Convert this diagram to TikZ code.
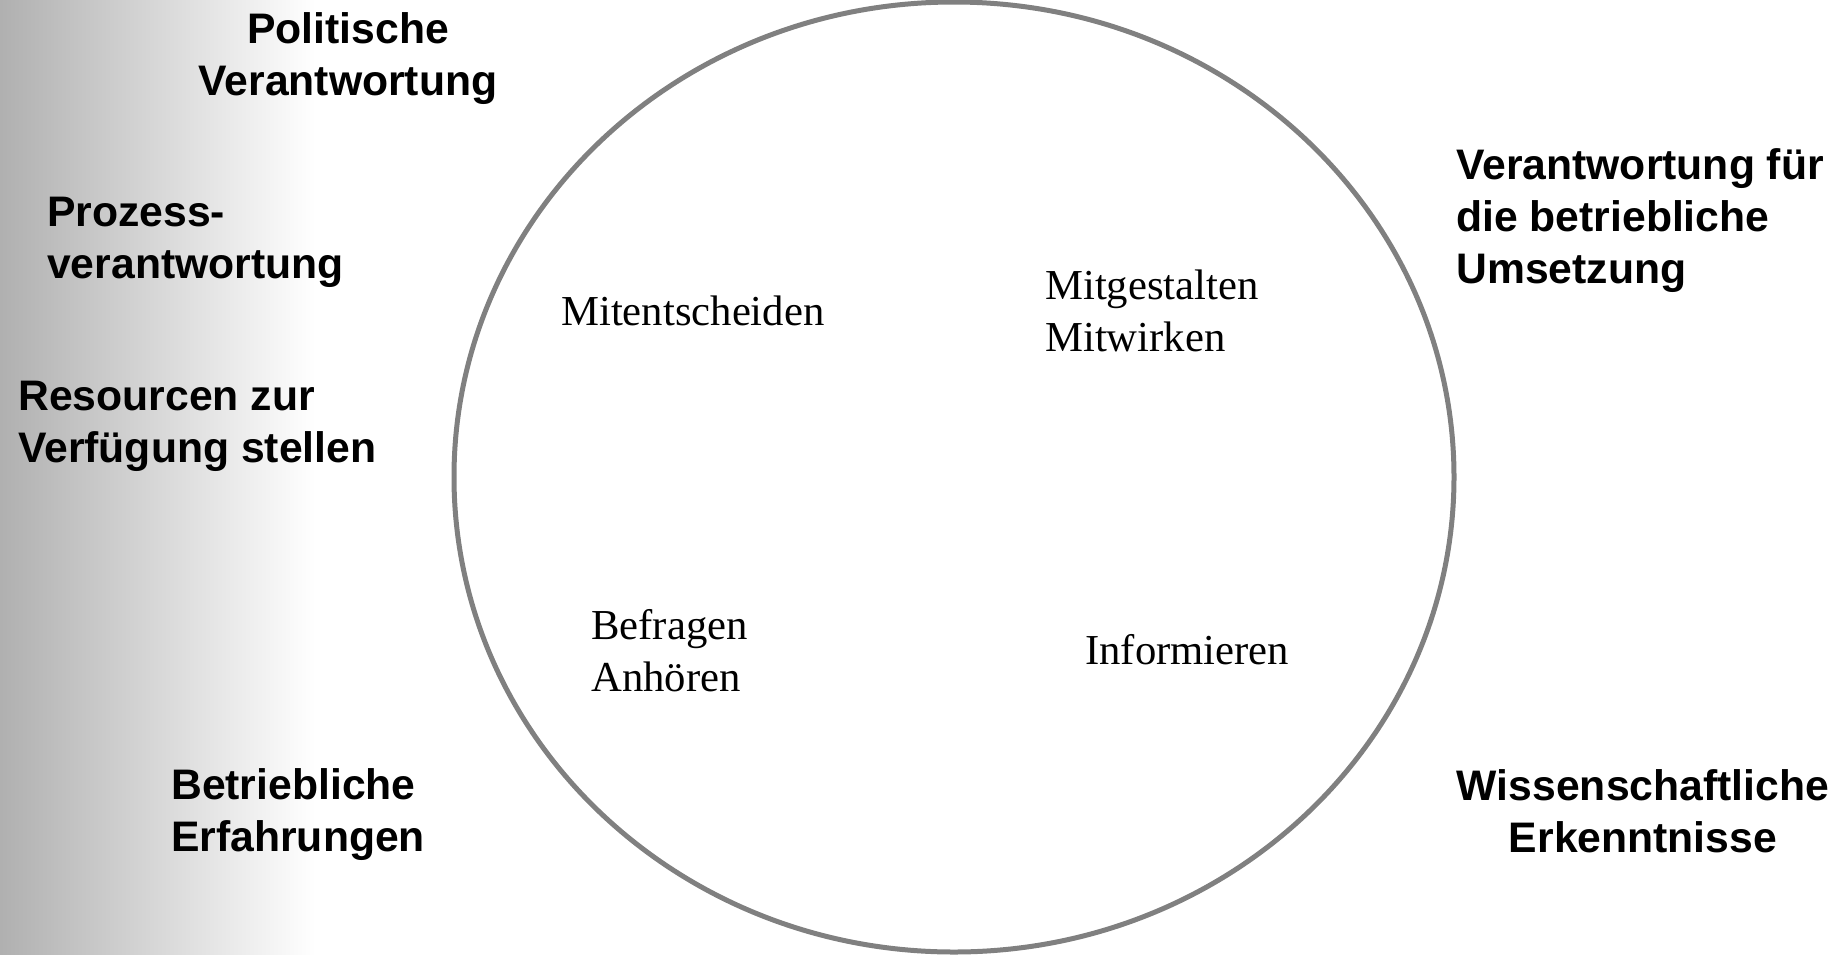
\documentclass[tikz,border=0pt]{standalone}
\usepackage{fontspec}
\setmainfont{Liberation Serif}
\setsansfont{Liberation Sans}
\usetikzlibrary{positioning}
\tikzstyle{rolle}=[inner sep=0pt, font=\sffamily\bfseries\fontsize{42.7}{52}\selectfont]
\tikzstyle{stufe}=[inner sep=0pt, align=left, font=\rmfamily\fontsize{42.7}{52}\selectfont]
\definecolor{randgrau}{RGB}{128,128,128}

\begin{document}
\begin{tikzpicture}[x=1pt, y=-1pt]
\useasboundingbox (0,0) rectangle (1845,954);
\shade[left color=black!31, right color=white] (0,0) rectangle (315,954);
\draw[randgrau, line width=5pt] (954,477) ellipse (500 and 475);
%
\node[rolle, align=center] (pol) at (348,59) {Politische\\Verantwortung};
\node[rolle, align=left, anchor=west] (proz) at (47,242) {Prozess-\\verantwortung};
\node[rolle, align=left, anchor=west] (res) at (18,426) {Resourcen zur\\Verf\"ugung stellen};
\node[rolle, align=left, anchor=west] (betr) at (171,815) {Betriebliche\\Erfahrungen};
\node[rolle, align=left, anchor=west] (umsetz) at (1456,221) {Verantwortung f\"ur\\die betriebliche\\Umsetzung};
\node[rolle, align=center] (wiss) at (1643,811) {Wissenschaftliche\\Erkenntnisse};
%
\node[stufe, anchor=west] (mitent) at (561,311) {Mitentscheiden};
\node[stufe, anchor=west] (mitgest) at (1045,311) {Mitgestalten\\Mitwirken};
\node[stufe, anchor=west] (befr) at (591,651) {Befragen\\Anh\"oren};
\node[stufe, anchor=west] (inform) at (1085,650) {Informieren};
%
\end{tikzpicture}
\end{document}
